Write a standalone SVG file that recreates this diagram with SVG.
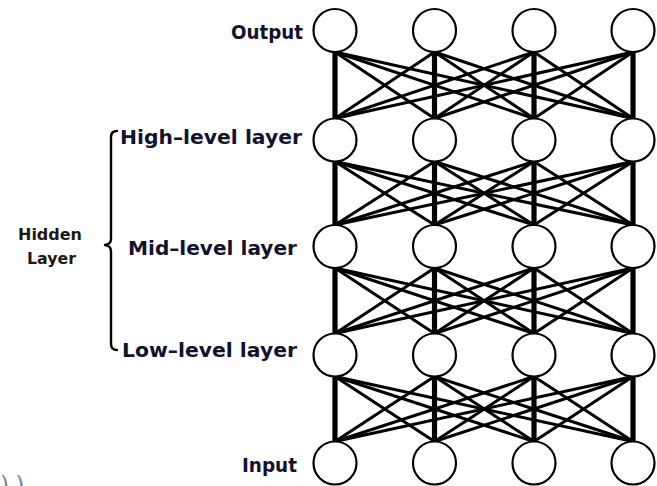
<svg xmlns="http://www.w3.org/2000/svg" width="657" height="486" viewBox="0 0 657 486">
<style>
.bg{fill:#ffffff}
.node{fill:#ffffff;stroke:#000000;stroke-width:2.2}
.edge{stroke:#000000;stroke-width:3;stroke-linecap:round;fill:none}
.vert{stroke:#000000;stroke-width:5.2;stroke-linecap:butt;fill:none}
.lbl{font-family:"DejaVu Sans","Liberation Sans",sans-serif;font-weight:bold;font-size:20px;fill:#121230}
.small{font-family:"DejaVu Sans","Liberation Sans",sans-serif;font-weight:bold;font-size:15px;fill:#1e1814}
.brace{stroke:#000000;stroke-width:2.4;fill:none;stroke-linecap:round;stroke-linejoin:round}
</style>
<rect class="bg" x="0" y="0" width="657" height="486"/>
<g id="connectors">
<line class="vert" x1="335" y1="52" x2="335" y2="118.5"/>
<line class="vert" x1="434.5" y1="52" x2="434.5" y2="118.5"/>
<line class="vert" x1="534" y1="52" x2="534" y2="118.5"/>
<line class="vert" x1="633" y1="52" x2="633" y2="118.5"/>
<line class="edge" x1="335" y1="52" x2="434.5" y2="118.5"/>
<line class="edge" x1="335" y1="52" x2="534" y2="118.5"/>
<line class="edge" x1="335" y1="52" x2="633" y2="118.5"/>
<line class="edge" x1="434.5" y1="52" x2="335" y2="118.5"/>
<line class="edge" x1="434.5" y1="52" x2="534" y2="118.5"/>
<line class="edge" x1="434.5" y1="52" x2="633" y2="118.5"/>
<line class="edge" x1="534" y1="52" x2="335" y2="118.5"/>
<line class="edge" x1="534" y1="52" x2="434.5" y2="118.5"/>
<line class="edge" x1="534" y1="52" x2="633" y2="118.5"/>
<line class="edge" x1="633" y1="52" x2="335" y2="118.5"/>
<line class="edge" x1="633" y1="52" x2="434.5" y2="118.5"/>
<line class="edge" x1="633" y1="52" x2="534" y2="118.5"/>
<line class="vert" x1="335" y1="161.5" x2="335" y2="225"/>
<line class="vert" x1="434.5" y1="161.5" x2="434.5" y2="225"/>
<line class="vert" x1="534" y1="161.5" x2="534" y2="225"/>
<line class="vert" x1="633" y1="161.5" x2="633" y2="225"/>
<line class="edge" x1="335" y1="161.5" x2="434.5" y2="225"/>
<line class="edge" x1="335" y1="161.5" x2="534" y2="225"/>
<line class="edge" x1="335" y1="161.5" x2="633" y2="225"/>
<line class="edge" x1="434.5" y1="161.5" x2="335" y2="225"/>
<line class="edge" x1="434.5" y1="161.5" x2="534" y2="225"/>
<line class="edge" x1="434.5" y1="161.5" x2="633" y2="225"/>
<line class="edge" x1="534" y1="161.5" x2="335" y2="225"/>
<line class="edge" x1="534" y1="161.5" x2="434.5" y2="225"/>
<line class="edge" x1="534" y1="161.5" x2="633" y2="225"/>
<line class="edge" x1="633" y1="161.5" x2="335" y2="225"/>
<line class="edge" x1="633" y1="161.5" x2="434.5" y2="225"/>
<line class="edge" x1="633" y1="161.5" x2="534" y2="225"/>
<line class="vert" x1="335" y1="268" x2="335" y2="333.5"/>
<line class="vert" x1="434.5" y1="268" x2="434.5" y2="333.5"/>
<line class="vert" x1="534" y1="268" x2="534" y2="333.5"/>
<line class="vert" x1="633" y1="268" x2="633" y2="333.5"/>
<line class="edge" x1="335" y1="268" x2="434.5" y2="333.5"/>
<line class="edge" x1="335" y1="268" x2="534" y2="333.5"/>
<line class="edge" x1="335" y1="268" x2="633" y2="333.5"/>
<line class="edge" x1="434.5" y1="268" x2="335" y2="333.5"/>
<line class="edge" x1="434.5" y1="268" x2="534" y2="333.5"/>
<line class="edge" x1="434.5" y1="268" x2="633" y2="333.5"/>
<line class="edge" x1="534" y1="268" x2="335" y2="333.5"/>
<line class="edge" x1="534" y1="268" x2="434.5" y2="333.5"/>
<line class="edge" x1="534" y1="268" x2="633" y2="333.5"/>
<line class="edge" x1="633" y1="268" x2="335" y2="333.5"/>
<line class="edge" x1="633" y1="268" x2="434.5" y2="333.5"/>
<line class="edge" x1="633" y1="268" x2="534" y2="333.5"/>
<line class="vert" x1="335" y1="376.5" x2="335" y2="441.5"/>
<line class="vert" x1="434.5" y1="376.5" x2="434.5" y2="441.5"/>
<line class="vert" x1="534" y1="376.5" x2="534" y2="441.5"/>
<line class="vert" x1="633" y1="376.5" x2="633" y2="441.5"/>
<line class="edge" x1="335" y1="376.5" x2="434.5" y2="441.5"/>
<line class="edge" x1="335" y1="376.5" x2="534" y2="441.5"/>
<line class="edge" x1="335" y1="376.5" x2="633" y2="441.5"/>
<line class="edge" x1="434.5" y1="376.5" x2="335" y2="441.5"/>
<line class="edge" x1="434.5" y1="376.5" x2="534" y2="441.5"/>
<line class="edge" x1="434.5" y1="376.5" x2="633" y2="441.5"/>
<line class="edge" x1="534" y1="376.5" x2="335" y2="441.5"/>
<line class="edge" x1="534" y1="376.5" x2="434.5" y2="441.5"/>
<line class="edge" x1="534" y1="376.5" x2="633" y2="441.5"/>
<line class="edge" x1="633" y1="376.5" x2="335" y2="441.5"/>
<line class="edge" x1="633" y1="376.5" x2="434.5" y2="441.5"/>
<line class="edge" x1="633" y1="376.5" x2="534" y2="441.5"/>
</g>
<g id="output-layer">
<circle class="node" cx="335" cy="30.5" r="21.5"/>
<circle class="node" cx="434.5" cy="30.5" r="21.5"/>
<circle class="node" cx="534" cy="30.5" r="21.5"/>
<circle class="node" cx="633" cy="30.5" r="21.5"/>
<text class="lbl" x="231" y="39" textLength="72" lengthAdjust="spacingAndGlyphs">Output</text>
</g>
<g id="high-level-layer">
<circle class="node" cx="335" cy="140" r="21.5"/>
<circle class="node" cx="434.5" cy="140" r="21.5"/>
<circle class="node" cx="534" cy="140" r="21.5"/>
<circle class="node" cx="633" cy="140" r="21.5"/>
<text class="lbl" x="120" y="143.5" textLength="182" lengthAdjust="spacingAndGlyphs">High–level layer</text>
</g>
<g id="mid-level-layer">
<circle class="node" cx="335" cy="246.5" r="21.5"/>
<circle class="node" cx="434.5" cy="246.5" r="21.5"/>
<circle class="node" cx="534" cy="246.5" r="21.5"/>
<circle class="node" cx="633" cy="246.5" r="21.5"/>
<text class="lbl" x="128" y="255" textLength="169" lengthAdjust="spacingAndGlyphs">Mid–level layer</text>
</g>
<g id="low-level-layer">
<circle class="node" cx="335" cy="355" r="21.5"/>
<circle class="node" cx="434.5" cy="355" r="21.5"/>
<circle class="node" cx="534" cy="355" r="21.5"/>
<circle class="node" cx="633" cy="355" r="21.5"/>
<text class="lbl" x="122" y="357" textLength="175" lengthAdjust="spacingAndGlyphs">Low–level layer</text>
</g>
<g id="input-layer">
<circle class="node" cx="335" cy="463" r="21.5"/>
<circle class="node" cx="434.5" cy="463" r="21.5"/>
<circle class="node" cx="534" cy="463" r="21.5"/>
<circle class="node" cx="633" cy="463" r="21.5"/>
<text class="lbl" x="242" y="472" textLength="55" lengthAdjust="spacingAndGlyphs">Input</text>
</g>
<g id="hidden-layer-group">
<path class="brace" d="M117,131 Q111,131 111,137 L111,239 Q111,244 105,245 Q111,246 111,251 L111,344 Q111,350 117,350"/>
<text class="small" x="18" y="239.5" textLength="64" lengthAdjust="spacingAndGlyphs">Hidden</text>
<text class="small" x="27" y="264" textLength="49" lengthAdjust="spacingAndGlyphs">Layer</text>
</g>
<text x="0" y="494" font-family="DejaVu Sans, sans-serif" font-size="24" letter-spacing="6" fill="#7a8aa0">))</text>
</svg>
